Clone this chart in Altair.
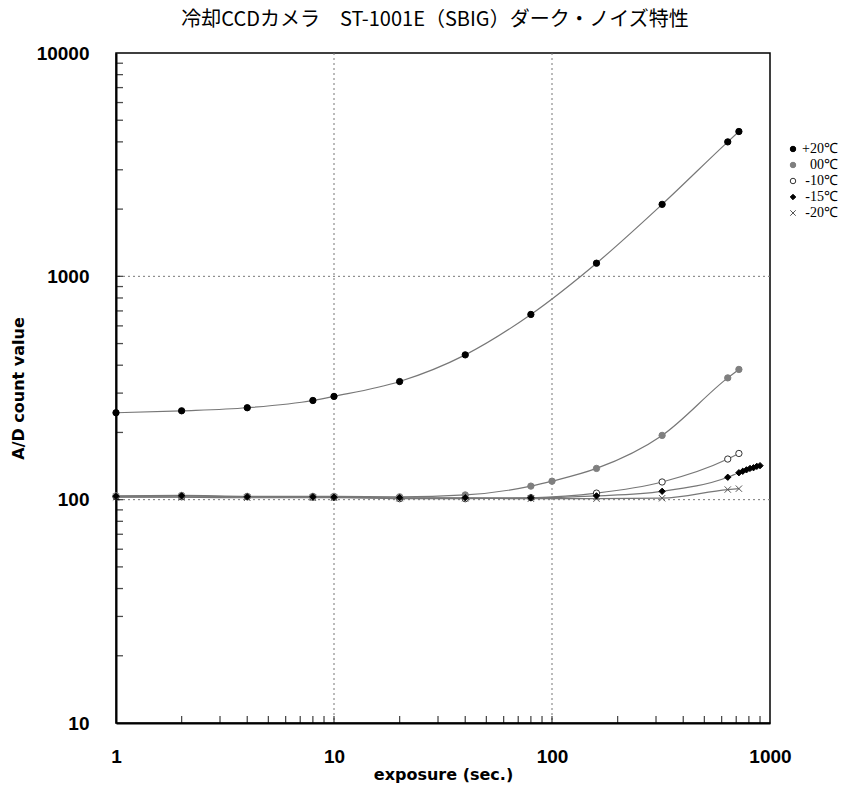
import altair as alt
import pandas as pd

# ---- data ----
series_names = ["+20℃", "00℃", "-10℃", "-15℃", "-20℃"]

exposure_p20 = [1, 2, 4, 8, 10, 20, 40, 80, 160, 320, 640, 720]
count_p20 = [245, 250, 258, 278, 290, 338, 445, 675, 1145, 2100, 4000, 4450]

exposure_00 = [1, 2, 4, 8, 10, 20, 40, 80, 100, 160, 320, 640, 720]
count_00 = [104, 104.5, 103.5, 103.5, 103.5, 103, 105, 115, 121, 138, 194, 351, 383]

exposure_m10 = [1, 2, 4, 8, 10, 20, 40, 80, 160, 320, 640, 720]
count_m10 = [103, 103, 103, 102.5, 102.5, 101, 101, 102, 107, 120, 152, 161]

exposure_m15 = [1, 2, 4, 8, 10, 20, 40, 80, 160, 320, 640, 720, 750, 780, 810, 840, 870, 900]
count_m15 = [103.5, 104, 103, 103, 102.5, 102, 102, 102, 104, 109, 126, 132, 134, 136, 138, 139, 141, 142]

exposure_m20 = [1, 2, 4, 8, 10, 20, 40, 80, 160, 320, 640, 720]
count_m20 = [102.5, 102.5, 102, 102, 102, 101.5, 101.5, 101, 101, 101.5, 111, 112]

x_label_values = [1, 10, 100, 1000]
y_label_values = [10, 100, 1000, 10000]
x_grid_values = [10, 100]
y_grid_values = [100, 1000]
x_tick_values = [2, 3, 4, 5, 6, 7, 8, 9, 10, 20, 30, 40, 50, 60, 70, 80, 90, 100,
                 200, 300, 400, 500, 600, 700, 800, 900]
y_tick_values = [20, 30, 40, 50, 60, 70, 80, 90, 100, 200, 300, 400, 500, 600, 700, 800, 900,
                 1000, 2000, 3000, 4000, 5000, 6000, 7000, 8000, 9000]

# ---- tables ----
rows = []
# draw order: -20 first, +20 last
for name, xs, ys in [
    (series_names[4], exposure_m20, count_m20),
    (series_names[2], exposure_m10, count_m10),
    (series_names[1], exposure_00, count_00),
    (series_names[3], exposure_m15, count_m15),
    (series_names[0], exposure_p20, count_p20),
]:
    for x, y in zip(xs, ys):
        rows.append({"series": name, "exposure": x, "count": y})
df = pd.DataFrame(rows)

W, H = 654, 670
xscale = alt.Scale(type="log", domain=[1, 1000], nice=False)
yscale = alt.Scale(type="log", domain=[10, 10000], nice=False)

LFONT = "Liberation Sans"
TFONT = "DejaVu Sans"

x_axis = alt.Axis(values=x_label_values, format="d", ticks=False, grid=False,
                  domainColor="black", domainWidth=2, labelFont=LFONT, labelFontSize=19,
                  labelFontWeight="bold", labelColor="black", labelPadding=24,
                  labelFlush=False, title="exposure (sec.)", titleFont=TFONT,
                  titleFontSize=16, titleFontWeight="bold", titleColor="black",
                  titlePadding=0)
y_axis = alt.Axis(values=y_label_values, format="d", ticks=False, grid=False,
                  domainColor="black", domainWidth=2, labelFont=LFONT, labelFontSize=19,
                  labelFontWeight="bold", labelColor="black", labelPadding=27,
                  labelFlush=False, title="A/D count value", titleFont=TFONT,
                  titleFontSize=16, titleFontWeight="bold", titleColor="black",
                  titlePadding=10)

X = alt.X("exposure:Q", scale=xscale, axis=x_axis)
Y = alt.Y("count:Q", scale=yscale, axis=y_axis)

grid_x = alt.Chart(pd.DataFrame({"exposure": x_grid_values})).mark_rule(
    color="#777777", strokeWidth=1, strokeDash=[2, 3]
).encode(x=X)

grid_y = alt.Chart(pd.DataFrame({"count": y_grid_values})).mark_rule(
    color="#777777", strokeWidth=1, strokeDash=[2, 3]
).encode(y=Y)

lines = alt.Chart(df).mark_line(color="#777777", strokeWidth=1.2, interpolate="monotone").encode(
    x=X, y=Y, detail="series:N",
)

cross_path = "M-1,-1L1,1M-1,1L1,-1"
leg = alt.Legend(title=None, orient="none", legendX=670, legendY=89,
                 labelFont="Liberation Serif", labelFontSize=14, labelColor="black",
                 labelAlign="right", labelOffset=38,
                 symbolSize=30, rowPadding=2, symbolStrokeWidth=1)

points = alt.Chart(df).mark_point(filled=True, opacity=1, strokeWidth=1, size=40).encode(
    x=X, y=Y,
    shape=alt.Shape("series:N",
                    scale=alt.Scale(domain=series_names,
                                    range=["circle", "circle", "circle", "diamond", cross_path]),
                    legend=leg),
    fill=alt.Fill("series:N",
                  scale=alt.Scale(domain=series_names,
                                  range=["black", "#7f7f7f", "white", "black", "white"]),
                  legend=leg),
    stroke=alt.Stroke("series:N",
                      scale=alt.Scale(domain=series_names,
                                      range=["black", "#7f7f7f", "#333333", "black", "#555555"]),
                      legend=leg),
)

xticks = alt.Chart(pd.DataFrame({"exposure": x_tick_values})).mark_tick(
    color="black", thickness=1.3, size=7
).encode(x=X, y=alt.value(H - 3.5))

yticks = alt.Chart(pd.DataFrame({"count": y_tick_values})).mark_tick(
    color="black", thickness=1.3, size=7
).encode(y=Y, x=alt.value(3.5))

chart = alt.layer(grid_x, grid_y, lines, points, xticks, yticks).properties(
    width=W, height=H,
    title=alt.TitleParams(text="冷却CCDカメラ\u3000ST-1001E（SBIG）ダーク・ノイズ特性",
                          font="Noto Sans CJK JP", fontSize=20, fontWeight="normal",
                          color="black", anchor="middle", offset=14, dx=-8),
    padding={"left": 116, "top": 53, "right": 93, "bottom": 62},
    autosize="none",
    background="white",
).configure_view(stroke="black", strokeWidth=1.5)

chart.save("out.html", embed_options={"renderer": "svg", "actions": False})
